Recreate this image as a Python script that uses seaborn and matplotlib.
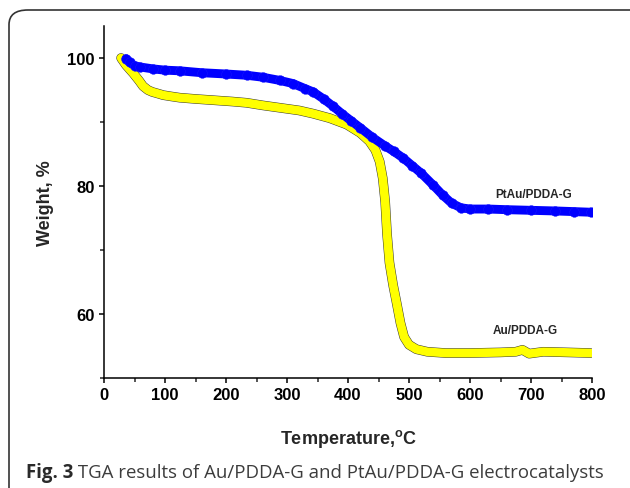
import matplotlib
matplotlib.use("Agg")
import matplotlib.pyplot as plt
from matplotlib.patches import FancyBboxPatch
from matplotlib.ticker import MultipleLocator
import seaborn as sns
import pandas as pd

# ---------------- data ----------------
temp_au = [28, 36, 48, 58, 64, 72, 79, 90, 97, 110, 124, 150, 180, 210, 234, 260,
           290, 320, 343, 370, 398, 420, 435, 445, 452, 457, 461, 464, 468, 474,
           480, 486, 492, 500, 512, 530, 560, 600, 650, 675, 686, 697, 720, 760, 798]
weight_au = [100.0, 98.9, 97.6, 96.4, 95.6, 95.0, 94.7, 94.4, 94.2, 94.0, 93.8, 93.6,
             93.4, 93.2, 93.0, 92.6, 92.2, 91.8, 91.3, 90.6, 89.6, 88.3, 87.0, 85.6,
             83.8, 81.2, 77.5, 72.5, 68.0, 64.5, 61.6, 58.6, 56.4, 55.2, 54.5, 54.1,
             53.9, 53.9, 54.0, 54.1, 54.4, 53.8, 54.1, 54.0, 53.9]

temp_ptau = [36, 42, 50, 59, 80, 100, 124, 160, 200, 234, 260, 288, 310, 330, 343,
             360, 375, 390, 405, 420, 440, 460, 475, 490, 505, 520, 540, 555, 570,
             585, 600, 630, 660, 700, 740, 770, 798]
weight_ptau = [99.9, 99.3, 98.8, 98.6, 98.3, 98.1, 98.0, 97.7, 97.5, 97.3, 97.0, 96.5,
               96.0, 95.2, 94.7, 93.6, 92.5, 91.3, 90.2, 89.1, 87.6, 86.3, 85.4, 84.4,
               83.2, 82.0, 80.1, 78.6, 77.3, 76.6, 76.4, 76.4, 76.3, 76.2, 76.1, 76.0,
               75.9]

labels = ["Au/PDDA-G", "PtAu/PDDA-G"]
x_ticks = [0, 100, 200, 300, 400, 500, 600, 700, 800]
y_ticks = [60, 80, 100]
x_label = "Temperature,$\\mathregular{^{o}}$C"
y_label = "Weight, %"
caption_bold = "Fig. 3"
caption_rest = " TGA results of Au/PDDA-G and PtAu/PDDA-G electrocatalysts"

df = pd.concat([
    pd.DataFrame({"T": temp_au, "W": weight_au, "s": labels[0]}),
    pd.DataFrame({"T": temp_ptau, "W": weight_ptau, "s": labels[1]}),
], ignore_index=True)

# ---------------- figure ----------------
sns.set_theme(style="ticks")
plt.rcParams["font.family"] = ["Liberation Sans", "DejaVu Sans"]

fig = plt.figure(figsize=(6.30, 4.89), dpi=100)
fig.patch.set_facecolor("white")

# rounded frame (cut by the right and bottom edges)
frame = FancyBboxPatch((9 / 630, -0.2), 1.2, 1.2 - 11 / 489,
                       boxstyle="round,pad=0,rounding_size=0.03",
                       transform=fig.transFigure, fill=False,
                       edgecolor="#333333", linewidth=1.2, zorder=0)
fig.add_artist(frame)

ax = fig.add_axes([104 / 630, 1 - 379 / 489, (592 - 104) / 630, (379 - 27) / 489])
ax.set_facecolor("white")

sub_au = df[df.s == labels[0]]
sub_pt = df[df.s == labels[1]]

# Au/PDDA-G: yellow band with thin dark outline
sns.lineplot(data=sub_au, x="T", y="W", ax=ax, color="#333333", linewidth=6.9,
             sort=False, zorder=2, solid_capstyle="round", solid_joinstyle="round")
sns.lineplot(data=sub_au, x="T", y="W", ax=ax, color="#ffff00", linewidth=6.2,
             sort=False, zorder=2.1, solid_capstyle="round", solid_joinstyle="round")
# PtAu/PDDA-G: blue band of dots
sns.lineplot(data=sub_pt, x="T", y="W", ax=ax, color="#0000ff", linewidth=6.4,
             marker="o", markersize=7.0, markeredgecolor="#1a1aff",
             markeredgewidth=0.3, sort=False, zorder=3,
             solid_capstyle="round", solid_joinstyle="round")

ax.set_xlim(0, 800)
ax.set_ylim(50, 105)
ax.set_xticks(x_ticks)
ax.set_yticks(y_ticks)
ax.xaxis.set_minor_locator(MultipleLocator(50))
ax.yaxis.set_minor_locator(MultipleLocator(10))
ax.tick_params(axis="both", which="major", direction="out", length=3.5, width=1.1,
               labelsize=12, pad=3, colors="black")
ax.tick_params(axis="both", which="minor", direction="out", length=3, width=1.1)
for lab in ax.get_xticklabels() + ax.get_yticklabels():
    lab.set_fontweight("bold")

for side in ["top", "right"]:
    ax.spines[side].set_visible(False)
for side in ["left", "bottom"]:
    ax.spines[side].set_linewidth(1.1)
    ax.spines[side].set_color("black")

ax.set_xlabel(x_label, fontsize=13, fontweight="bold", labelpad=18)
ax.set_ylabel(y_label, fontsize=13, fontweight="bold", labelpad=10)
ax.grid(False)
leg = ax.get_legend()
if leg is not None:
    leg.remove()

ax.text(641, 78.75, labels[1], fontsize=8.5, fontweight="bold", va="center", ha="left")
ax.text(638, 57.5, labels[0], fontsize=8.5, fontweight="bold", va="center", ha="left")

# caption
t1 = fig.text(26 / 630, 1 - 473 / 489, caption_bold, fontsize=13.4, fontweight="bold",
              family=["Open Sans", "DejaVu Sans"], color="#2a2a2a", va="center", ha="left")
fig.canvas.draw()
bb = t1.get_window_extent()
fig.text(bb.x1 / 630, 1 - 473 / 489, caption_rest, fontsize=13.4,
         family=["Open Sans", "DejaVu Sans"], color="#3c3c3c", va="center", ha="left")

fig.savefig("out.png", dpi=100, facecolor="white")
